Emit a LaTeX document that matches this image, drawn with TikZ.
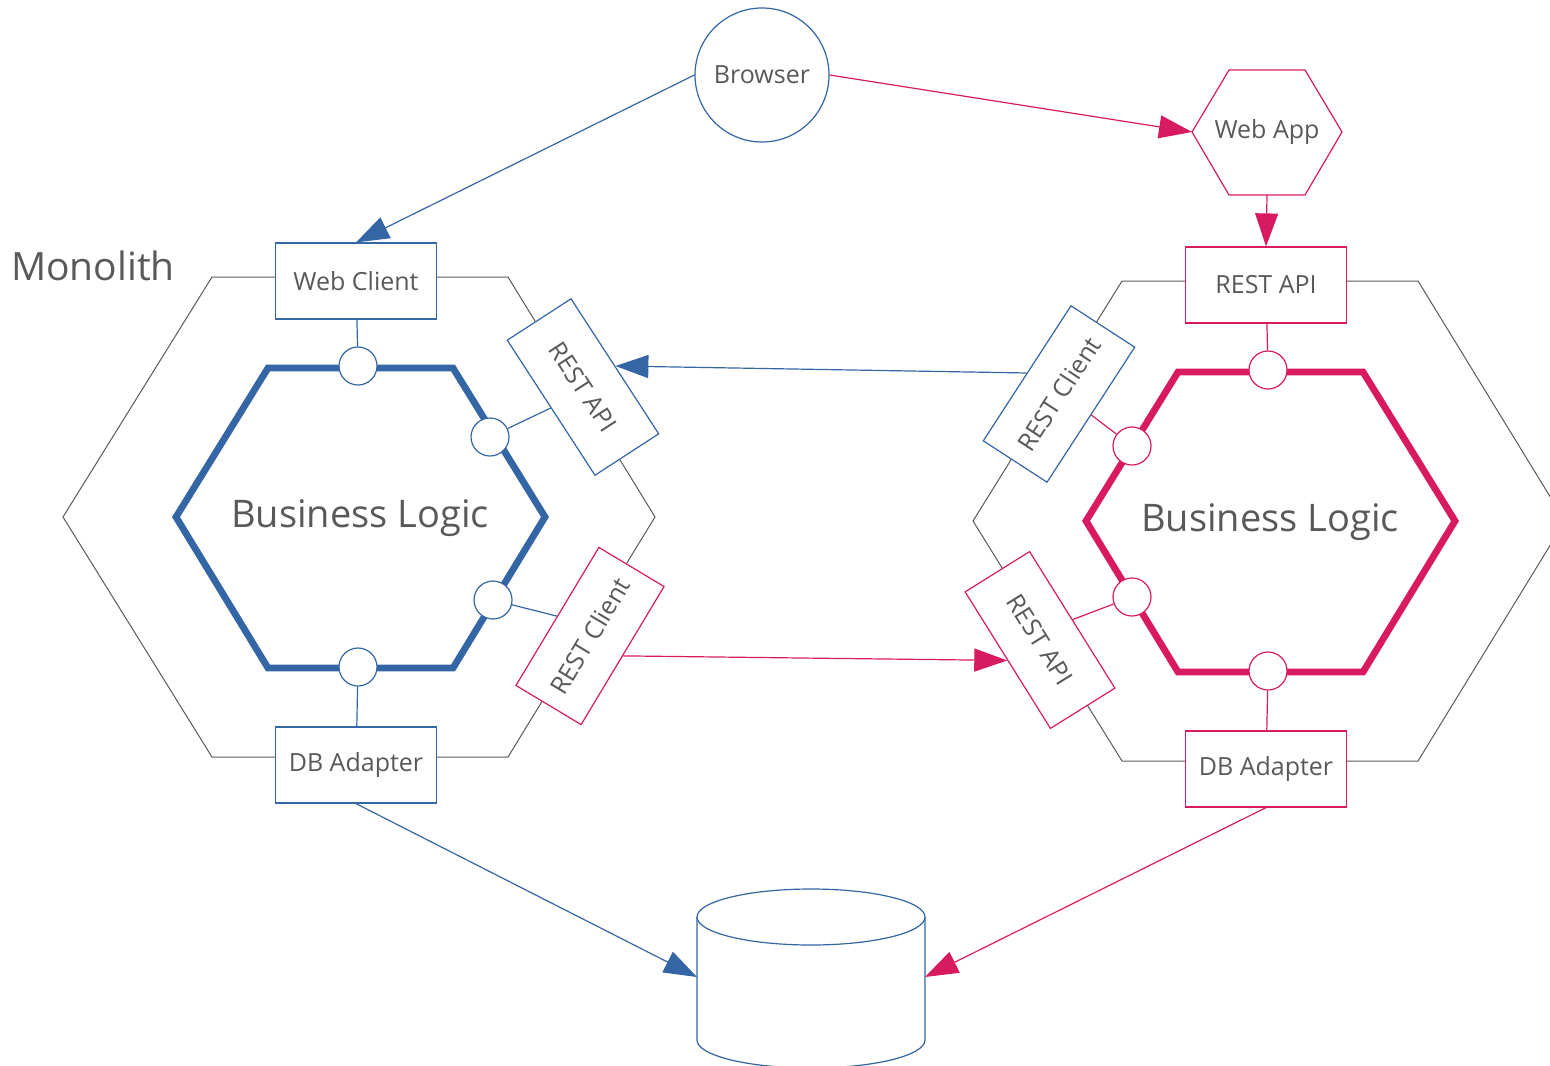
\documentclass[tikz,border=0pt]{standalone}
\usepackage{fontspec}
\setmainfont{Open Sans}
\usetikzlibrary{arrows.meta}
\definecolor{hexblue}{HTML}{3465A4}
\definecolor{hexpink}{HTML}{D81B60}
\definecolor{txtgray}{HTML}{595959}
\tikzstyle{every node}=[text=txtgray,font=\fontsize{12.5}{15}\selectfont]
\tikzstyle{port}=[draw,line width=0.6pt,fill=white,minimum width=80.5pt,minimum height=38pt,inner sep=0pt]
\tikzstyle{plug}=[circle,draw,line width=0.6pt,fill=white,minimum size=19pt,inner sep=0pt]
\tikzstyle{wire}=[line width=0.6pt]
\tikzstyle{call}=[line width=0.6pt,-{Triangle[length=16.5pt,width=11.5pt]}]
\tikzstyle{shell}=[draw=txtgray,line width=0.5pt]
\tikzstyle{core}=[line width=3.4pt]
\tikzstyle{big}=[font=\fontsize{19}{23}\selectfont]

\begin{document}
\begin{tikzpicture}[x=0.5pt,y=-0.5pt]
    \clip (0,0) rectangle (1550,1065);
    % outer hexagons
    \draw[shell] (212,277) -- (508,277) -- (655,517) -- (508,757) -- (212,757) -- (63,517) -- cycle;
    \draw[shell] (1122,281) -- (1418,281) -- (1565,521) -- (1418,761) -- (1122,761) -- (973,521) -- cycle;
    % business logic
    \draw[core,hexblue] (268,368) -- (453,368) -- (545,517) -- (453,668) -- (268,668) -- (176,517) -- cycle;
    \draw[core,hexpink] (1178,372) -- (1363,372) -- (1455,521) -- (1363,672) -- (1178,672) -- (1086,521) -- cycle;
    \node[big] (logicleft) at (360,518) {Business Logic};
    \node[big] (logicright) at (1270,522) {Business Logic};
    \node[big,font=\fontsize{19.5}{23}\selectfont] (monolith) at (93,266) {Monolith};

    % ports of the monolith
    \node[port,draw=hexblue] (webclient) at (356,281) {Web Client};
    \node[port,draw=hexblue] (dbleft) at (356,765) {DB Adapter};
    \node[port,draw=hexblue,rotate=-57] (apileft) at (583,387) {REST API};
    \node[port,draw=hexpink,rotate=59] (clientleft) at (590,636) {REST Client};
    \node[plug,draw=hexblue] (plugtop) at (358,366) {};
    \node[plug,draw=hexblue] (plugapi) at (490,437) {};
    \node[plug,draw=hexblue] (plugclient) at (493,600) {};
    \node[plug,draw=hexblue] (plugdb) at (358,667) {};
    \draw[wire,hexblue] (plugtop) -- (webclient);
    \draw[wire,hexblue] (plugapi) -- (apileft.south);
    \draw[wire,hexblue] (plugclient) -- (clientleft.north);
    \draw[wire,hexblue] (plugdb) -- (dbleft);

    % ports of the service
    \node[port,draw=hexpink] (apitop) at (1266,285) {REST API};
    \node[port,draw=hexpink] (dbright) at (1266,769) {DB Adapter};
    \node[port,draw=hexblue,rotate=57] (clientright) at (1059,394) {REST Client};
    \node[port,draw=hexpink,rotate=-58] (apiright) at (1040,640) {REST API};
    \node[plug,draw=hexpink] (svctop) at (1268,370) {};
    \node[plug,draw=hexpink] (svcclient) at (1132,446) {};
    \node[plug,draw=hexpink] (svcapi) at (1132,597) {};
    \node[plug,draw=hexpink] (svcdb) at (1268,671) {};
    \draw[wire,hexpink] (svctop) -- (apitop);
    \draw[wire,hexpink] (svcclient) -- (clientright.south);
    \draw[wire,hexpink] (svcapi) -- (apiright.north);
    \draw[wire,hexpink] (svcdb) -- (dbright);

    % browser and web app
    \node[circle,draw=hexblue,wire,minimum size=67pt,inner sep=0pt] (browser) at (762,75) {Browser};
    \draw[wire,hexpink] (1229,70) -- (1305,70) -- (1342,132) -- (1305,195) -- (1229,195) -- (1192,132) -- cycle;
    \node (webapp) at (1267,132) {Web App};
    \coordinate (webapp-w) at (1192,132);
    \coordinate (webapp-s) at (1267,195);

    % database
    \draw[wire,hexblue,fill=white] (697,917) -- (697,1040) arc[start angle=180,end angle=0,x radius=114,y radius=28] -- (925,917);
    \draw[wire,hexblue] (811,917) ellipse [x radius=114,y radius=28];
    \coordinate (db-w) at (697,977);
    \coordinate (db-e) at (925,977);

    % calls
    \draw[call,hexblue] (browser.west) -- (webclient.north);
    \draw[call,hexpink] (browser.east) -- (webapp-w);
    \draw[call,hexpink] (webapp-s) -- (apitop.north);
    \draw[call,hexblue] (clientright.north) -- (apileft.north);
    \draw[call,hexpink] (clientleft.south) -- (apiright.south);
    \draw[call,hexblue] (dbleft.south) -- (db-w);
    \draw[call,hexpink] (dbright.south) -- (db-e);
\end{tikzpicture}
\end{document}
